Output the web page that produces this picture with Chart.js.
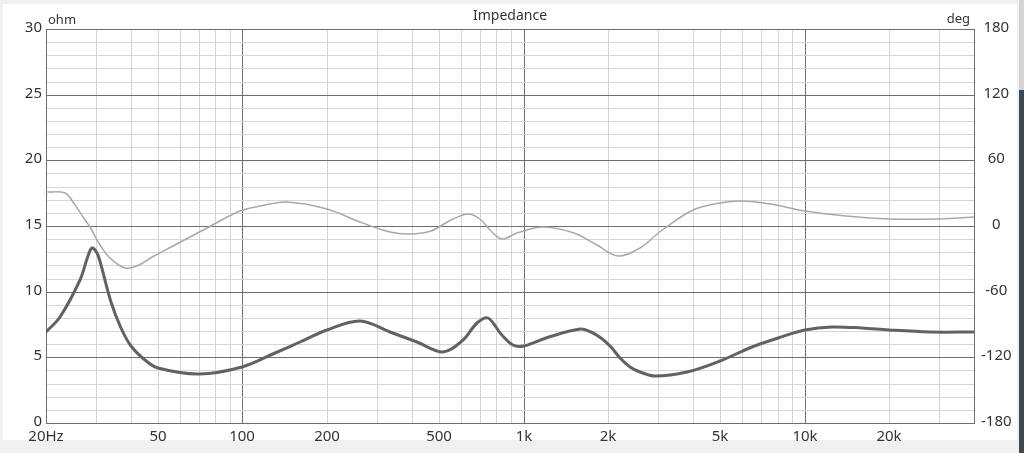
<!DOCTYPE html>
<html>
<head>
<meta charset="utf-8">
<title>Impedance</title>
<script src="https://cdn.jsdelivr.net/npm/chart.js@4.4.1/dist/chart.umd.min.js"></script>
<style>
  html, body { margin: 0; padding: 0; background: #f0f0f0; }
  #wrap { position: relative; width: 1024px; height: 453px; }
</style>
</head>
<body>
<div id="wrap"><canvas id="imp-chart"></canvas></div>
<script>
// impedance magnitude (ohm)
const impFreq = [20, 22.5, 26.5, 28.2, 29.2, 30.3, 31.5, 34, 37, 40, 45, 50, 70, 100, 130, 160, 200, 262, 335, 417, 516, 609, 683, 747, 828, 915, 1000, 1200, 1590, 1735, 1880, 2040, 2210, 2395, 2590, 2940, 3800, 5000, 6500, 8000, 10000, 12500, 16000, 20000, 28000, 40000];
const impOhm = [6.95, 8.1, 10.9, 12.7, 13.3, 12.95, 12.0, 9.2, 7.2, 5.9, 4.8, 4.2, 3.73, 4.25, 5.3, 6.2, 7.05, 7.77, 6.95, 6.2, 5.4, 6.3, 7.6, 8.0, 6.8, 5.94, 5.85, 6.45, 7.15, 6.95, 6.5, 5.75, 4.95, 4.3, 3.9, 3.6, 3.9, 4.75, 5.8, 6.5, 7.1, 7.33, 7.2, 7.05, 6.95, 6.93];

// phase (deg)
const phaseFreq = [20, 23.4, 25, 27.1, 28.7, 31.2, 33.8, 38.1, 42.7, 48.5, 56.8, 74.5, 97.9, 120, 144, 200, 262, 335, 395, 470, 550, 633, 700, 760, 838, 950, 1172, 1505, 1830, 2170, 2600, 3070, 4010, 5000, 5930, 7500, 10000, 14000, 20000, 30000, 40000];
const phaseDeg = [31.3, 29.9, 22.2, 8.5, -0.6, -17.4, -29.5, -38.1, -35.6, -27, -18, -2, 13.5, 19.5, 21.6, 15.5, 4, -5.2, -7.6, -5, 5.5, 10.7, 6, -3.7, -11.9, -6.7, -1.2, -6.7, -17.4, -27.4, -19.8, -4.6, 14.6, 20.7, 22.8, 19.8, 14, 9.1, 6.4, 6.8, 7.9];

// x grid / tick positions and the labels shown under them
const xTickValues = [20, 30, 40, 50, 60, 70, 80, 90, 100, 200, 300, 400, 500, 600, 700, 800, 900, 1000, 2000, 3000, 4000, 5000, 6000, 7000, 8000, 9000, 10000, 20000, 30000, 40000];
const xTickNames = { 20: '20Hz', 50: '50', 100: '100', 200: '200', 500: '500', 1000: '1k', 2000: '2k', 5000: '5k', 10000: '10k', 20000: '20k' };
const xMajor = [100, 1000, 10000];

const MAJOR = '#6f6f6f';
const MINOR = '#d6d6d6';
const FONT = '"Noto Sans", "Open Sans", sans-serif';

const toPoints = (xs, ys) => xs.map((x, i) => ({ x: x, y: ys[i] }));

// frame around the plot + the small captions
const framePlugin = {
  id: 'frame',
  beforeDraw(chart) {
    const c = chart.ctx;
    c.save();
    c.fillStyle = '#f0f0f0';
    c.fillRect(0, 0, chart.width, chart.height);
    c.fillStyle = '#ffffff';
    c.fillRect(3, 4, 1014, 436);
    c.fillStyle = '#d2d4d5';
    c.fillRect(1019, 0, 5, 90);
    c.fillStyle = '#3b4a50';
    c.fillRect(1019, 90, 5, 363);
    c.restore();
  },
  afterDraw(chart) {
    const c = chart.ctx;
    c.save();
    c.fillStyle = '#333333';
    c.textBaseline = 'alphabetic';
    c.font = '13px ' + FONT;
    c.textAlign = 'left';
    c.fillText('ohm', 48, 24);
    c.textAlign = 'right';
    c.fillText('deg', 970, 23);
    c.font = '14px ' + FONT;
    c.textAlign = 'center';
    c.fillText('Impedance', 510, 20);
    c.restore();
  }
};

new Chart(document.getElementById('imp-chart'), {
  type: 'line',
  data: {
    datasets: [
      {
        label: 'Phase',
        data: toPoints(phaseFreq, phaseDeg),
        yAxisID: 'y1',
        borderColor: '#a9a9a9',
        borderWidth: 1.5,
        pointRadius: 0,
        tension: 0.35,
        fill: false,
      },
      {
        label: 'Impedance',
        data: toPoints(impFreq, impOhm),
        yAxisID: 'y',
        borderColor: '#626262',
        borderWidth: 3,
        pointRadius: 0,
        tension: 0.35,
        fill: false,
      },
    ],
  },
  options: {
    responsive: true,
    maintainAspectRatio: false,
    animation: false,
    devicePixelRatio: 1,
    layout: { padding: { top: 29, left: 0, right: 0, bottom: 0 } },
    plugins: {
      legend: { display: false },
      tooltip: { enabled: false },
    },
    scales: {
      x: {
        type: 'logarithmic',
        min: 20,
        max: 40000,
        alignToPixels: true,
        afterBuildTicks: (axis) => {
          axis.ticks = xTickValues.map((v) => ({ value: v }));
        },
        afterFit: (axis) => { axis.height = 30; },
        ticks: {
          autoSkip: false,
          maxRotation: 0,
          padding: 5,
          color: '#333333',
          font: { family: FONT, size: 15 },
          callback: (v) => xTickNames[v] || '',
        },
        grid: {
          drawTicks: false,
          color: (ctx) => (xMajor.includes(ctx.tick && ctx.tick.value) ? MAJOR : MINOR),
        },
        border: { color: MAJOR },
      },
      y: {
        position: 'left',
        min: 0,
        max: 30,
        alignToPixels: true,
        afterFit: (axis) => { axis.width = 46; },
        ticks: {
          stepSize: 1,
          autoSkip: false,
          padding: 4,
          labelOffset: -1,
          color: '#333333',
          font: { family: FONT, size: 15 },
          callback: (v) => (v % 5 === 0 ? String(v) : ''),
        },
        grid: {
          drawTicks: false,
          color: (ctx) => (ctx.tick && ctx.tick.value % 5 === 0 ? MAJOR : MINOR),
        },
        border: { color: MAJOR },
      },
      y1: {
        position: 'right',
        min: -180,
        max: 180,
        alignToPixels: true,
        afterFit: (axis) => { axis.width = 50; },
        ticks: {
          stepSize: 60,
          padding: 7,
          labelOffset: -1,
          crossAlign: 'center',
          color: '#333333',
          font: { family: FONT, size: 15 },
        },
        grid: { drawOnChartArea: false, drawTicks: false },
        border: { color: MAJOR },
      },
    },
  },
  plugins: [framePlugin],
});
</script>
</body>
</html>
